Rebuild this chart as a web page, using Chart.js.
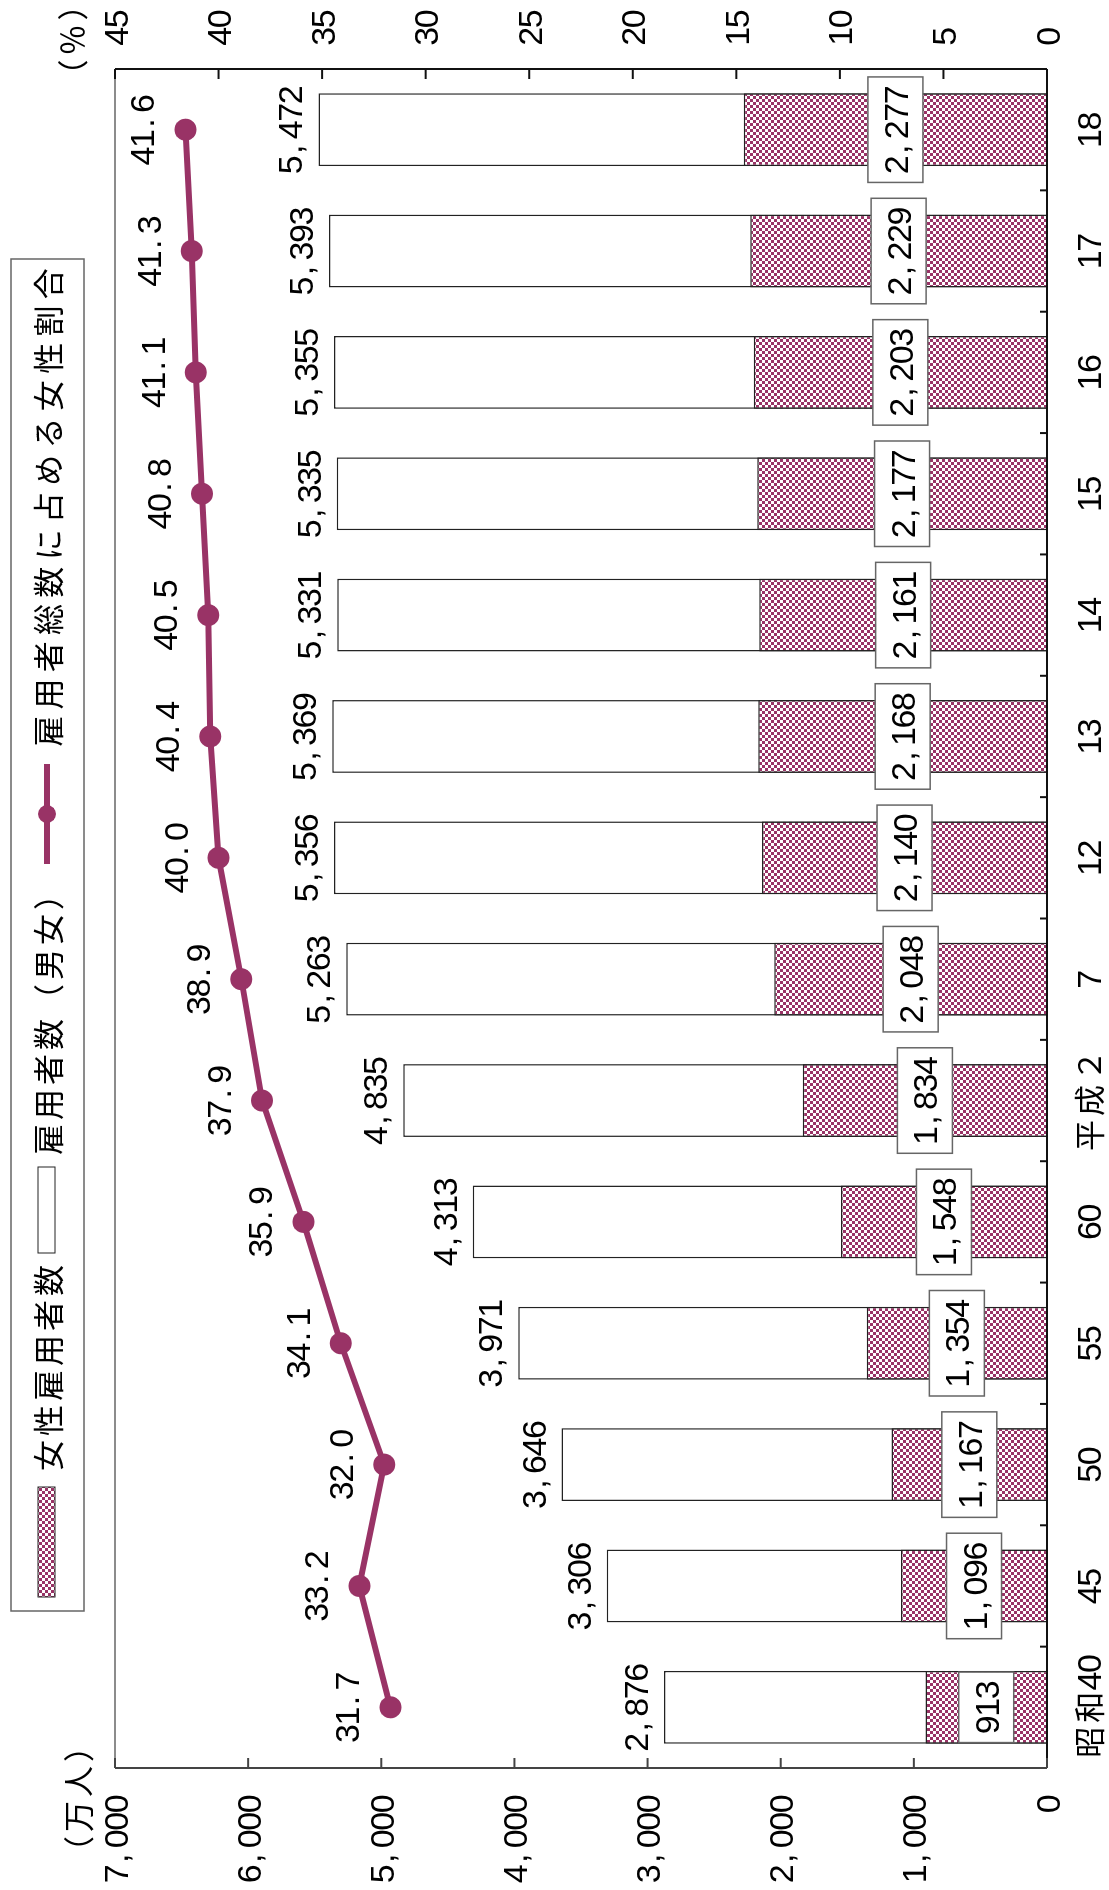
<!DOCTYPE html>
<html>
<head>
<meta charset="utf-8">
<script src="https://cdn.jsdelivr.net/npm/chart.js@4.4.1/dist/chart.umd.min.js"></script>
<style>
  html, body { margin: 0; padding: 0; background: #fff; overflow: hidden; width: 1109px; height: 1890px; }
  /* chart is laid out landscape, then turned a quarter turn counter-clockwise */
  #wrap { position: absolute; left: 0; top: 0; width: 1890px; height: 1109px;
          transform-origin: 0 0; transform: translate(0, 1890px) rotate(-90deg); }
</style>
</head>
<body>
<div id="wrap"><canvas id="c" width="1890" height="1109"></canvas></div>
<script>
const years = ['昭和40', '45', '50', '55', '60', '平成２', '7', '12', '13', '14', '15', '16', '17', '18'];
const femaleEmployees = [913, 1096, 1167, 1354, 1548, 1834, 2048, 2140, 2168, 2161, 2177, 2203, 2229, 2277];
const totalEmployees = [2876, 3306, 3646, 3971, 4313, 4835, 5263, 5356, 5369, 5331, 5335, 5355, 5393, 5472];
const femaleShare = [31.7, 33.2, 32.0, 34.1, 35.9, 37.9, 38.9, 40.0, 40.4, 40.5, 40.8, 41.1, 41.3, 41.6];
const countTicks = [0, 1000, 2000, 3000, 4000, 5000, 6000, 7000];
const shareTicks = [0, 5, 10, 15, 20, 25, 30, 35, 40, 45];

const PLUM = '#993366';
const LATIN = '34px "Liberation Sans", Arial, sans-serif';
const CJK = '31px "Noto Sans CJK JP", sans-serif';
const HALF = 17.5; // half-width cell, full-width chars take two

const fmtCount = v => v >= 1000 ? Math.floor(v / 1000) + ',' + String(v % 1000).padStart(3, '0') : String(v);
const fmtShare = v => v.toFixed(1);

// fixed-pitch text, like a Japanese gothic font: every char sits in its own cell
const isWide = ch => ch.charCodeAt(0) > 0x2e80;
const cellW = (ch, half) => isWide(ch) ? half * 2 : half;
const textW = (t, half = HALF) => [...t].reduce((w, ch) => w + cellW(ch, half), 0);

function drawMono(ctx, t, x, base, align, half = HALF) {
  const tw = textW(t, half);
  let cx = align === 'center' ? x - tw / 2 : align === 'right' ? x - tw : x;
  ctx.textBaseline = 'alphabetic';
  ctx.fillStyle = '#000';
  for (const ch of t) {
    const w = cellW(ch, half);
    if (isWide(ch)) {
      ctx.font = CJK;
      ctx.textAlign = 'center';
      ctx.fillText(ch, cx + w / 2, base);
    } else if (ch === ',' || ch === '.') {
      ctx.font = LATIN;
      ctx.textAlign = 'left';
      ctx.fillText(ch, cx + 2, base);
    } else if (ch !== ' ') {
      ctx.font = LATIN;
      ctx.textAlign = 'center';
      const m = ctx.measureText(ch).width;
      if (m > w * 1.3) {
        ctx.save();
        ctx.translate(cx + w / 2, base);
        ctx.scale(w * 1.15 / m, 1);
        ctx.fillText(ch, 0, 0);
        ctx.restore();
      } else {
        ctx.fillText(ch, cx + w / 2, base);
      }
    }
    cx += w;
  }
}

function seg(ctx, x1, y1, x2, y2, color, width) {
  ctx.beginPath();
  ctx.moveTo(x1, y1);
  ctx.lineTo(x2, y2);
  ctx.strokeStyle = color;
  ctx.lineWidth = width;
  ctx.stroke();
}

const canvas = document.getElementById('c');
const ctx = canvas.getContext('2d');

// small checkerboard fill for the female bars
const tile = document.createElement('canvas');
tile.width = 6; tile.height = 6;
const tg = tile.getContext('2d');
tg.fillStyle = '#fff'; tg.fillRect(0, 0, 6, 6);
tg.fillStyle = PLUM; tg.fillRect(0, 0, 3, 3); tg.fillRect(3, 3, 3, 3);
const checker = ctx.createPattern(tile, 'repeat');

const decor = {
  id: 'decor',
  afterDatasetsDraw(chart) {
    const { ctx, chartArea: a, scales: { x, y, y1 } } = chart;
    ctx.save();
    ctx.lineCap = 'butt';

    // plot frame
    seg(ctx, a.left, a.top, a.right, a.top, '#8c8c8c', 2);
    seg(ctx, a.left, a.top, a.left, a.bottom, '#444', 2);
    seg(ctx, a.right, a.top, a.right, a.bottom, '#111', 2);
    seg(ctx, a.left, a.bottom, a.right, a.bottom, '#111', 2);

    // value axes: inward tick marks and labels
    countTicks.forEach(v => {
      const py = y.getPixelForValue(v);
      seg(ctx, a.left, py, a.left + 10, py, '#444', 2);
      drawMono(ctx, fmtCount(v), a.left - 27, py + 12.5, 'right');
    });
    shareTicks.forEach(v => {
      const py = y1.getPixelForValue(v);
      seg(ctx, a.right - 10, py, a.right, py, '#111', 2);
      drawMono(ctx, String(v), a.right + 24, py + 12.5, 'left');
    });
    drawMono(ctx, '（万人）', 91, 90, 'center');
    drawMono(ctx, '（％）', 1850, 84, 'center');

    // category axis
    for (let i = 1; i < years.length; i++) {
      const px = (x.getPixelForValue(i - 1) + x.getPixelForValue(i)) / 2;
      seg(ctx, px, a.bottom, px, a.bottom - 7, '#111', 2);
    }
    years.forEach((lab, i) => drawMono(ctx, lab, x.getPixelForValue(i), 1101, 'center'));

    // totals above the white bars
    chart.getDatasetMeta(2).data.forEach((bar, i) => {
      drawMono(ctx, fmtCount(totalEmployees[i]), bar.x, bar.y - 16, 'center');
    });

    // female counts in boxes at the middle of the checkered bars
    chart.getDatasetMeta(1).data.forEach((bar, i) => {
      const t = fmtCount(femaleEmployees[i]);
      const w = textW(t) + 18, h = 55;
      const cy = (bar.y + bar.base) / 2;
      ctx.fillStyle = '#fff';
      ctx.fillRect(bar.x - w / 2, cy - h / 2, w, h);
      ctx.strokeStyle = '#666';
      ctx.lineWidth = 1.5;
      ctx.strokeRect(bar.x - w / 2, cy - h / 2, w, h);
      drawMono(ctx, t, bar.x, cy + 12.5, 'center');
    });

    // share values above the points
    chart.getDatasetMeta(0).data.forEach((pt, i) => {
      drawMono(ctx, fmtShare(femaleShare[i]), pt.x, pt.y - 31, 'center');
    });

    // legend
    ctx.fillStyle = '#fff';
    ctx.fillRect(279, 11, 1352, 73);
    ctx.strokeStyle = '#666';
    ctx.lineWidth = 1.5;
    ctx.strokeRect(279, 11, 1352, 73);

    ctx.fillStyle = checker;
    ctx.fillRect(293, 38, 110, 17);
    ctx.strokeStyle = '#222';
    ctx.lineWidth = 1;
    ctx.strokeRect(293, 38, 110, 17);
    drawMono(ctx, chart.data.datasets[1].label, 417, 60, 'left');

    ctx.fillStyle = '#fff';
    ctx.fillRect(637, 38, 86, 17);
    ctx.strokeRect(637, 38, 86, 17);
    drawMono(ctx, chart.data.datasets[2].label, 733, 60, 'left');

    seg(ctx, 1026, 47, 1126, 47, PLUM, 6);
    ctx.beginPath();
    ctx.arc(1076, 47, 9, 0, Math.PI * 2);
    ctx.fillStyle = PLUM;
    ctx.fill();
    drawMono(ctx, chart.data.datasets[0].label, 1140, 60, 'left', 18.65);

    ctx.restore();
  }
};

new Chart(ctx, {
  type: 'bar',
  data: {
    labels: years,
    datasets: [
      {
        type: 'line',
        label: '雇用者総数に占める女性割合',
        data: femaleShare,
        yAxisID: 'y1',
        borderColor: PLUM,
        backgroundColor: PLUM,
        borderWidth: 6,
        pointRadius: 11,
        pointHoverRadius: 11,
        pointBorderWidth: 0,
        pointBackgroundColor: PLUM,
        tension: 0,
        order: 0
      },
      {
        label: '女性雇用者数',
        data: femaleEmployees,
        backgroundColor: checker,
        borderColor: '#222',
        borderWidth: 1.5,
        grouped: false,
        barPercentage: 0.6,
        categoryPercentage: 1,
        order: 1
      },
      {
        label: '雇用者数（男女）',
        data: totalEmployees,
        backgroundColor: '#fff',
        borderColor: '#222',
        borderWidth: 1.5,
        grouped: false,
        barPercentage: 0.6,
        categoryPercentage: 1,
        order: 2
      }
    ]
  },
  options: {
    responsive: false,
    animation: false,
    devicePixelRatio: 1,
    layout: { padding: { top: 115, left: 0, right: 0, bottom: 0 } },
    plugins: { legend: { display: false }, tooltip: { enabled: false } },
    scales: {
      x: {
        offset: true,
        grid: { display: false, drawTicks: false },
        border: { display: false },
        ticks: { display: false },
        afterFit: s => { s.height = 62; }
      },
      y: {
        position: 'left',
        min: countTicks[0],
        max: countTicks[countTicks.length - 1],
        ticks: { display: false, stepSize: countTicks[1] - countTicks[0] },
        grid: { display: false, drawTicks: false },
        border: { display: false },
        afterFit: s => { s.width = 122; }
      },
      y1: {
        position: 'right',
        min: shareTicks[0],
        max: shareTicks[shareTicks.length - 1],
        ticks: { display: false, stepSize: shareTicks[1] - shareTicks[0] },
        grid: { display: false, drawTicks: false },
        border: { display: false },
        afterFit: s => { s.width = 69; }
      }
    }
  },
  plugins: [decor]
});
</script>
</body>
</html>
